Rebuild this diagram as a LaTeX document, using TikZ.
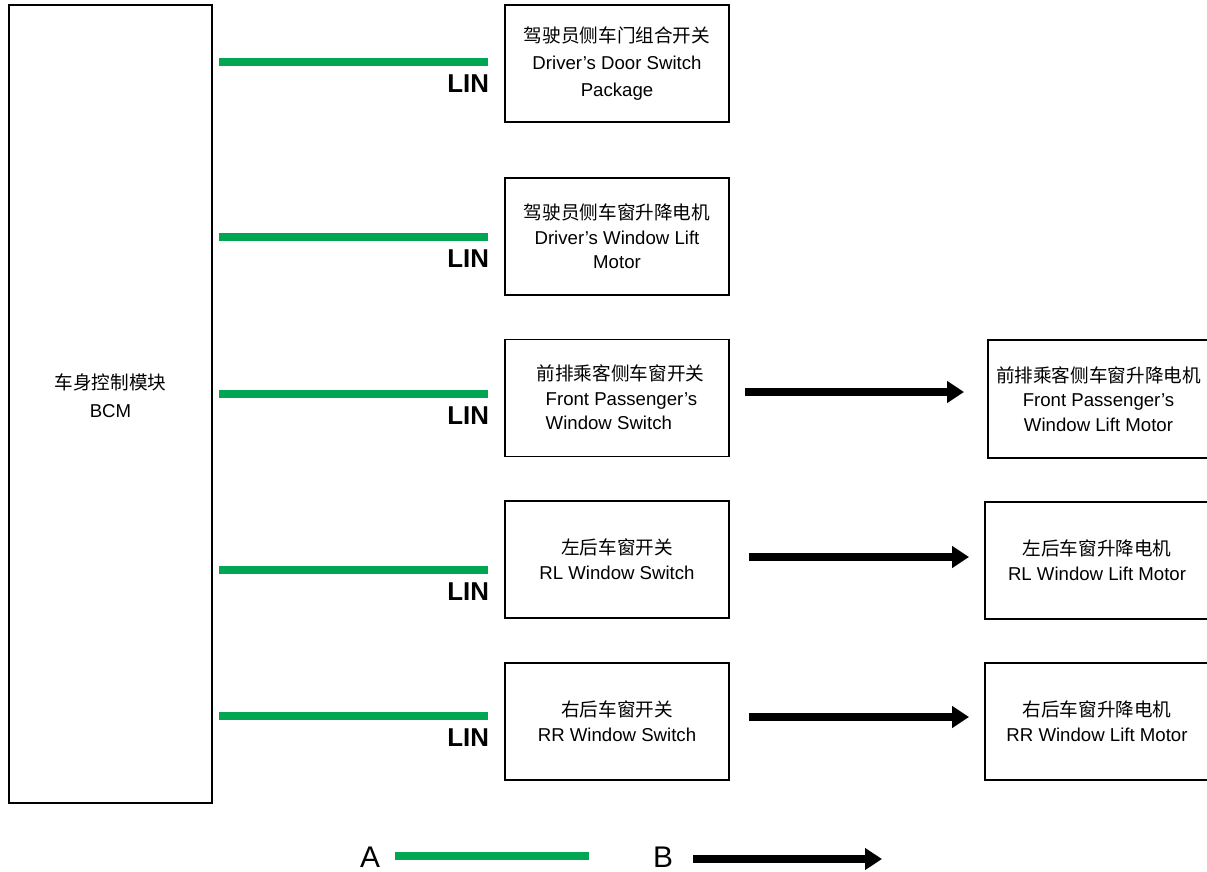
\documentclass[tikz,border=0pt]{standalone}
\usepackage{fontspec}
\setmainfont{Liberation Sans}
\newfontfamily\cjk{Noto Sans CJK SC}
\usepackage{tikz}
\usetikzlibrary{positioning,calc,arrows.meta}
\definecolor{lingreen}{RGB}{0,166,81}

\begin{document}
\begin{tikzpicture}[x=0.02cm,y=-0.02cm,
	box/.style={draw,line width=1.1pt,minimum width=4.48cm,minimum height=2.34cm,inner sep=0pt,align=center,font=\fontsize{10.6}{14}\selectfont},
	lin/.style={line width=0.16cm,lingreen},
	sig/.style={line width=0.16cm,-{Triangle[length=0.34cm,width=0.42cm]}},
	linlabel/.style={below left=0.18cm and -0.1cm,inner sep=0pt,font=\fontsize{14.7}{16}\selectfont\bfseries,text=black}]
			
			\useasboundingbox (0,0) rectangle (1207,872);
			
			\node[box,line width=1.5pt,minimum width=4.06cm,minimum height=15.96cm] (bcm) at (110.5,404) {{\cjk 车身控制模块}\\[2pt]BCM\\[-0.17cm]};
			
			\node[box,font=\fontsize{10.6}{15.2}\selectfont] (sw1) at (617,63.5) {{\cjk 驾驶员侧车门组合开关}\\Driver’s Door Switch\\Package};
			\node[box] (sw2) at (617,236.5) {{\cjk 驾驶员侧车窗升降电机}\\Driver’s Window Lift\\Motor};
			\node[box,align=left] (sw3) at (617,398) {\mbox{}\\[-0.2cm]\hspace*{0.14cm}{\cjk 前排乘客侧车窗开关}\\\hspace*{0.32cm}Front Passenger’s\\\hspace*{0.32cm}Window Switch};
			\node[box] (sw4) at (617,559.5) {{\cjk 左后车窗开关}\\RL Window Switch};
			\node[box] (sw5) at (617,721.5) {{\cjk 右后车窗开关}\\RR Window Switch};
			
			\node[box,minimum width=4.42cm,minimum height=2.36cm] (mot3) at (1098.5,399) {{\cjk 前排乘客侧车窗升降电机}\\Front Passenger’s\\Window Lift Motor};
			\node[box] (mot4) at (1097,560.5) {{\cjk 左后车窗升降电机}\\RL Window Lift Motor};
			\node[box] (mot5) at (1097,721.5) {{\cjk 右后车窗升降电机}\\RR Window Lift Motor};
			
			\draw[lin] ($(bcm.east|-sw1.west)+(6,-1.5)$) -- ($(sw1.west)+(-16,-1.5)$) node[linlabel]{LIN};
			\draw[lin] ($(bcm.east|-sw2.west)+(6,0.5)$) -- ($(sw2.west)+(-16,0.5)$) node[linlabel]{LIN};
			\draw[lin] ($(bcm.east|-sw3.west)+(6,-4)$) -- ($(sw3.west)+(-16,-4)$) node[linlabel]{LIN};
			\draw[lin] ($(bcm.east|-sw4.west)+(6,10.5)$) -- ($(sw4.west)+(-16,10.5)$) node[linlabel]{LIN};
			\draw[lin] ($(bcm.east|-sw5.west)+(6,-5.5)$) -- ($(sw5.west)+(-16,-5.5)$) node[linlabel]{LIN};
			
			\draw[sig] ($(sw3.east)+(15,-6)$) -- ($(mot3.west|-sw3.east)+(-23,-6)$);
			\draw[sig] ($(sw4.east)+(19,-2.5)$) -- ($(mot4.west|-sw4.east)+(-15,-2.5)$);
			\draw[sig] ($(sw5.east)+(19,-4.5)$) -- ($(mot5.west|-sw5.east)+(-15,-4.5)$);
			
			% legend
			\node[font=\fontsize{17}{20}\selectfont,inner sep=0pt] (legA) at (370,857) {A};
			\node[font=\fontsize{17}{20}\selectfont,inner sep=0pt] (legB) at (663,857) {B};
			\coordinate (legAend) at (589,856);
			\coordinate (legBend) at (882,859);
			\draw[lin] ($(legA.east)+(15,-1)$) -- (legAend);
			\draw[sig] ($(legB.east)+(20,2)$) -- (legBend);
			
		\end{tikzpicture}
\end{document}
